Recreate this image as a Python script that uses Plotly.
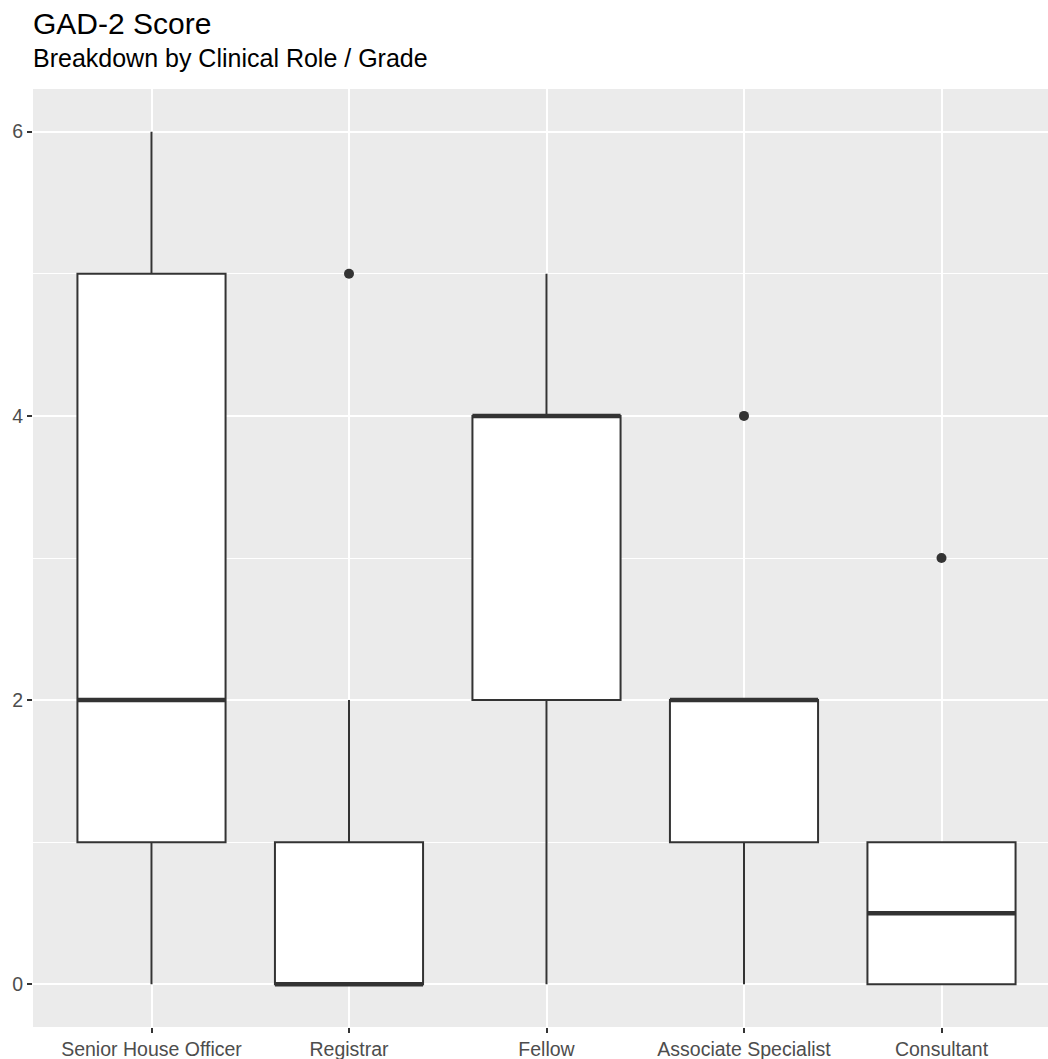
import plotly.graph_objects as go

# GAD-2 score distribution per clinical role / grade
roles = ["Senior House Officer", "Registrar", "Fellow", "Associate Specialist", "Consultant"]
lower_whisker = [0, 0, 0, 0, 0]
q1 = [1, 0, 2, 1, 0]
median = [2, 0, 4, 2, 0.5]
q3 = [5, 1, 4, 2, 1]
upper_whisker = [6, 2, 5, 2, 1]

outlier_roles = ["Registrar", "Associate Specialist", "Consultant"]
outlier_values = [5, 4, 3]

y_ticks = [0, 2, 4, 6]

W, H = 1048, 1059
M_L, M_R, M_T, M_B = 33, 0, 89, 32
BOX_W = 0.75
INK = "#333333"
FONT = "Liberation Sans"

pos = list(range(1, len(roles) + 1))
pos_of = dict(zip(roles, pos))

fig = go.Figure()

fig.add_trace(go.Box(
    x=pos,
    q1=q1,
    median=median,
    q3=q3,
    lowerfence=lower_whisker,
    upperfence=upper_whisker,
    width=BOX_W,
    whiskerwidth=0,
    fillcolor="white",
    line=dict(color=INK, width=2),
    boxpoints=False,
    hoverinfo="skip",
    showlegend=False,
))

# heavier median bar, as in ggplot boxplots
mx, my = [], []
for p, m in zip(pos, median):
    mx += [p - BOX_W / 2, p + BOX_W / 2, None]
    my += [m, m, None]
fig.add_trace(go.Scatter(
    x=mx, y=my, mode="lines",
    line=dict(color=INK, width=4.5),
    hoverinfo="skip", showlegend=False,
))

fig.add_trace(go.Scatter(
    x=[pos_of[r] for r in outlier_roles],
    y=outlier_values,
    mode="markers",
    marker=dict(color=INK, size=10),
    hoverinfo="skip", showlegend=False,
))

plot_h = H - M_T - M_B
def paper_y(px):
    return 1 + (M_T - px) / plot_h

fig.update_layout(
    width=W, height=H,
    margin=dict(l=M_L, r=M_R, t=M_T, b=M_B, autoexpand=False),
    paper_bgcolor="white",
    plot_bgcolor="#EBEBEB",
    font=dict(family=FONT, color="#4D4D4D", size=19.5),
    showlegend=False,
    annotations=[
        dict(text="GAD-2 Score", x=0, xref="paper", y=paper_y(42), yref="paper",
             xanchor="left", yanchor="bottom", showarrow=False, xshift=-2,
             font=dict(family=FONT, size=30, color="black")),
        dict(text="Breakdown by Clinical Role / Grade", x=0, xref="paper",
             y=paper_y(74), yref="paper", xanchor="left", yanchor="bottom",
             showarrow=False, xshift=-2,
             font=dict(family=FONT, size=25, color="black")),
    ],
)

fig.update_xaxes(
    range=[0.4, 0.4 + (W - M_L) / 197.5],
    tickvals=pos, ticktext=roles,
    showgrid=True, gridcolor="white", gridwidth=2.2,
    zeroline=False, showline=False,
    ticks="outside", ticklen=5, tickwidth=2, tickcolor=INK,
    tickfont=dict(family=FONT, size=19.5, color="#4D4D4D"),
    automargin=False,
)
fig.update_yaxes(
    range=[-0.3, 6.3],
    tickvals=y_ticks, ticktext=[str(v) for v in y_ticks],
    showgrid=True, gridcolor="white", gridwidth=2.2,
    minor=dict(dtick=1, showgrid=True, gridcolor="white", gridwidth=1, ticks=""),
    zeroline=False, showline=False,
    ticks="outside", ticklen=5, tickwidth=2, tickcolor=INK,
    tickfont=dict(family=FONT, size=19.5, color="#4D4D4D"),
    automargin=False,
)

fig.write_html("out.html")
